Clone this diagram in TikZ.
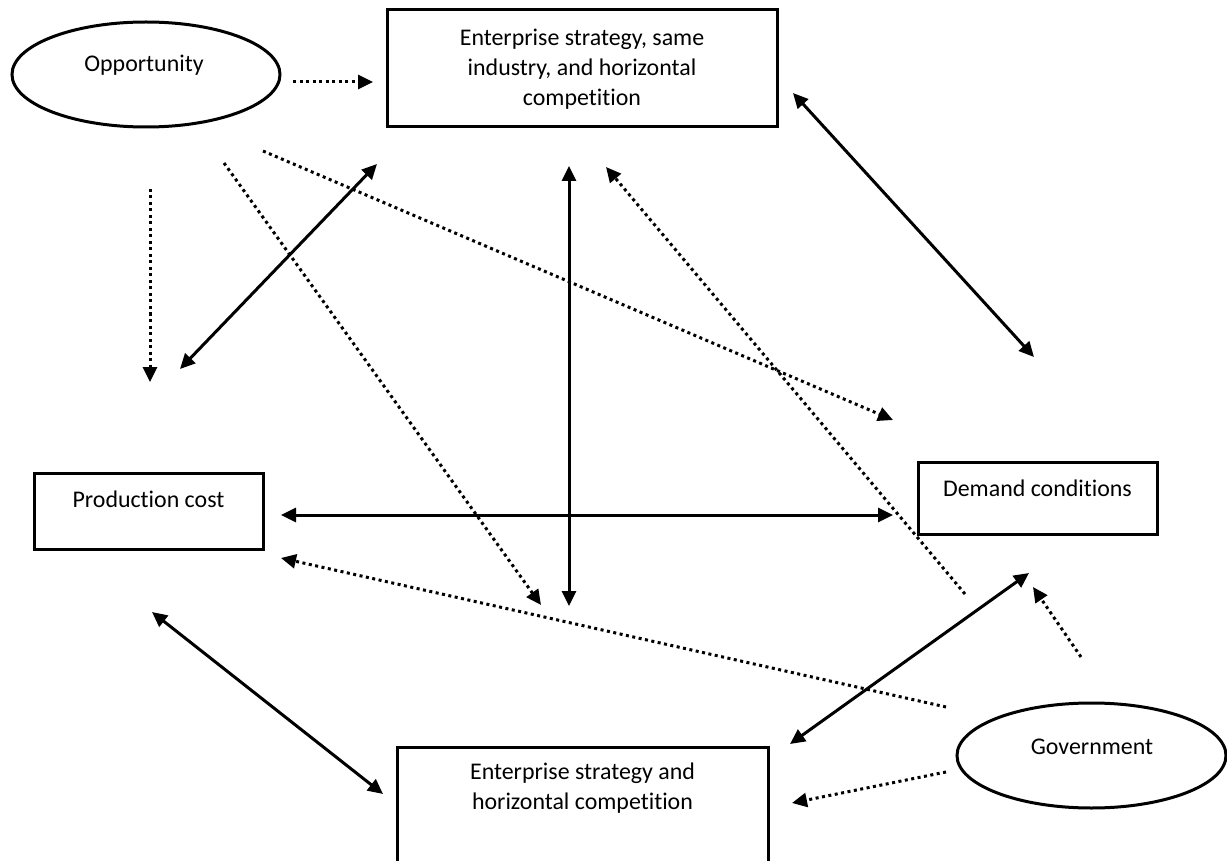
\documentclass[tikz,border=0pt]{standalone}
\usepackage{fontspec}
\setmainfont{Carlito}[Ligatures={NoCommon}]
\usetikzlibrary{arrows.meta,shapes.geometric}
\begin{document}
\begin{tikzpicture}[x=1pt,y=-1pt,
  box/.style={draw,line width=3pt,rectangle,inner sep=0pt},
  ell/.style={draw,line width=3pt,ellipse,inner sep=0pt},
  lbl/.style={inner sep=0pt,align=center,font=\fontsize{23.9}{30}\selectfont},
  solidarrow/.style={line width=3pt,{Triangle[length=15pt,width=14pt]}-{Triangle[length=15pt,width=14pt]}},
  dotarrow/.style={line width=3pt,dash pattern=on 3pt off 3.5pt,-{Triangle[length=15pt,width=14pt]}}]
\clip (0,0) rectangle (1227,861);
\fill[white] (0,0) rectangle (1227,861);
% nodes
\node[ell,minimum width=268pt,minimum height=105pt] (opp) at (146,74.5) {};
\node[lbl] (opptxt) at (144,65) {Opportunity};
\node[box,minimum width=390pt,minimum height=117pt] (top) at (582,68.5) {};
\node[lbl] (toptxt) at (582,69) {Enterprise strategy, same\\industry, and horizontal\\competition};
\node[box,minimum width=229pt,minimum height=76pt] (prod) at (148.5,511) {};
\node[lbl] (prodtxt) at (148.5,499) {Production cost};
\node[box,minimum width=239pt,minimum height=72pt] (dem) at (1037.5,498) {};
\node[lbl] (demtxt) at (1037.5,488) {Demand conditions};
\node[box,minimum width=371pt,minimum height=130pt] (bot) at (582.5,812) {};
\node[lbl] (bottxt) at (582.5,788) {Enterprise strategy and\\horizontal competition};
\node[ell,minimum width=269pt,minimum height=105pt] (gov) at (1091.5,755.5) {};
\node[lbl] (govtxt) at (1092,747) {Government};
% connector end points
\coordinate (a1) at (293,82);   \coordinate (b1) at (373,82);
\coordinate (a2) at (150,189);  \coordinate (b2) at (150,382);
\coordinate (a3) at (180,369);  \coordinate (b3) at (377,164);
\coordinate (a4) at (224,163);  \coordinate (b4) at (541,605);
\coordinate (a5) at (263,151);  \coordinate (b5) at (893,420);
\coordinate (a6) at (569,166);  \coordinate (b6) at (569,606);
\coordinate (a7) at (965,594);  \coordinate (b7) at (606,167);
\coordinate (a8) at (793,93);   \coordinate (b8) at (1034,357);
\coordinate (a9) at (281,515);  \coordinate (b9) at (893,515);
\coordinate (a10) at (946,707); \coordinate (b10) at (281,558);
\coordinate (a11) at (152,612); \coordinate (b11) at (383,794);
\coordinate (a12) at (790,744); \coordinate (b12) at (1029,573);
\coordinate (a13) at (946,772); \coordinate (b13) at (792,803);
\coordinate (a14) at (1081,657);\coordinate (b14) at (1033,587);
% connectors
\draw[dotarrow] (a1) -- (b1);
\draw[dotarrow] (a2) -- (b2);
\draw[solidarrow] (a3) -- (b3);
\draw[dotarrow] (a4) -- (b4);
\draw[dotarrow] (a5) -- (b5);
\draw[solidarrow] (a6) -- (b6);
\draw[dotarrow] (a7) -- (b7);
\draw[solidarrow] (a8) -- (b8);
\draw[solidarrow] (a9) -- (b9);
\draw[dotarrow] (a10) -- (b10);
\draw[solidarrow] (a11) -- (b11);
\draw[solidarrow] (a12) -- (b12);
\draw[dotarrow] (a13) -- (b13);
\draw[dotarrow] (a14) -- (b14);
\end{tikzpicture}
\end{document}
